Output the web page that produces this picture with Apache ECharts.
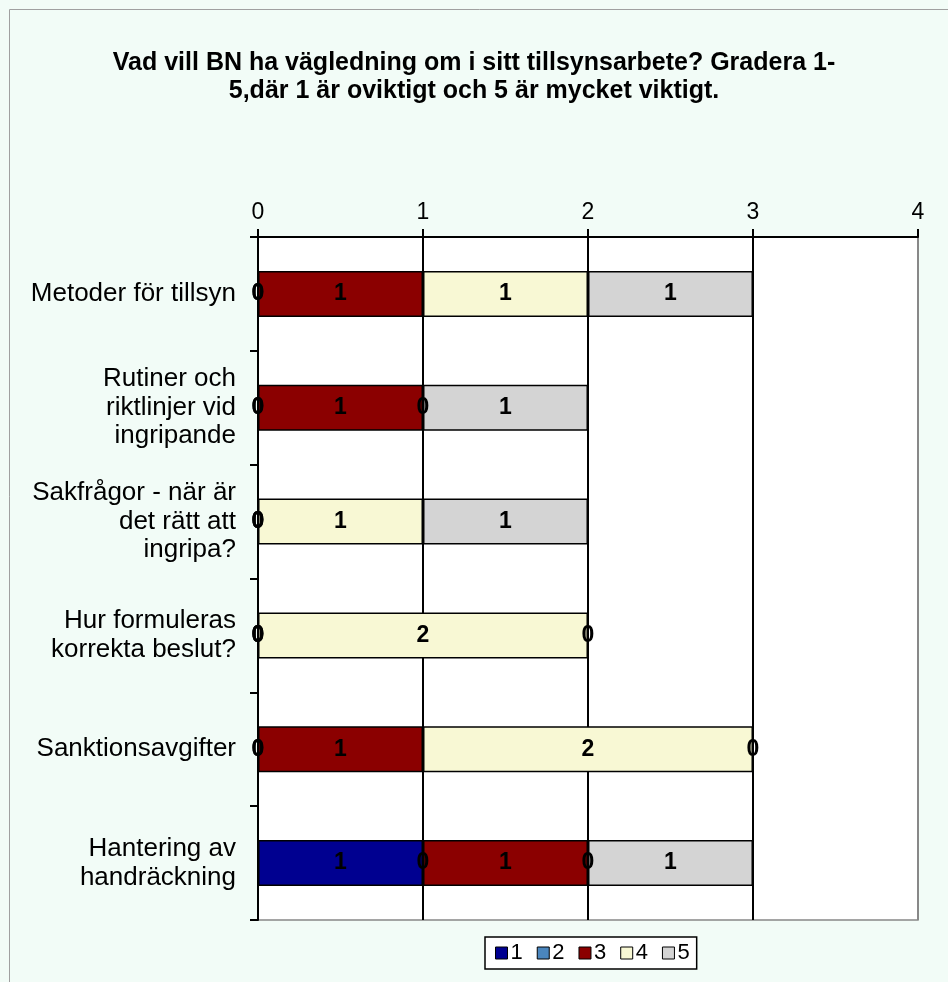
<!DOCTYPE html>
<html>
<head>
<meta charset="utf-8">
<script src="https://cdn.jsdelivr.net/npm/echarts@6/dist/echarts.min.js"></script>
<style>
  html, body { margin: 0; padding: 0; background: #f2fcf7; }
  #chart { width: 948px; height: 982px; }
</style>
</head>
<body>
<div id="chart"></div>
<script>
  var categories = [
    'Metoder för tillsyn',
    'Rutiner och\nriktlinjer vid\ningripande',
    'Sakfrågor - när är\ndet rätt att\ningripa?',
    'Hur formuleras\nkorrekta beslut?',
    'Sanktionsavgifter',
    'Hantering av\nhandräckning'
  ];
  var seriesNames = ['1', '2', '3', '4', '5'];
  var grade1 = [0, 0, 0, 0, 0, 1];
  var grade2 = [0, 0, 0, 0, 0, 0];
  var grade3 = [1, 1, 0, 0, 1, 1];
  var grade4 = [1, 0, 1, 2, 2, 0];
  var grade5 = [1, 1, 1, 0, 0, 1];
  var colors = ['#000090', '#4a86be', '#8b0000', '#f8f8d4', '#d4d4d4'];

  var myChart = echarts.init(document.getElementById('chart'));
  var allData = [grade1, grade2, grade3, grade4, grade5];
  var font = 'Liberation Sans, Arial';

  var series = allData.map(function (d, i) {
    return {
      name: seriesNames[i],
      type: 'bar',
      stack: 'total',
      barWidth: 46,
      data: d,
      itemStyle: {
        color: colors[i],
        borderColor: '#000',
        borderWidth: 1.5
      },
      label: {
        show: true,
        position: 'inside',
        color: '#000',
        fontFamily: font,
        fontWeight: 'bold',
        fontSize: 23
      },
      animation: false
    };
  });

  var option = {
    backgroundColor: '#f2fcf7',
    graphic: [{
      type: 'rect',
      z: -10,
      shape: { x: 9.5, y: 9.5, width: 960, height: 1000 },
      style: { fill: '#f2fcf7', stroke: '#a0a0a0', lineWidth: 1 }
    }],
    title: {
      text: 'Vad vill BN ha vägledning om i sitt tillsynsarbete? Gradera 1-\n5,där 1 är oviktigt och 5 är mycket viktigt.',
      left: 'center',
      top: 44,
      textStyle: {
        fontFamily: font,
        fontWeight: 'bold',
        fontSize: 25,
        lineHeight: 28,
        color: '#000'
      }
    },
    legend: {
      data: seriesNames,
      left: 485,
      top: 937,
      icon: 'rect',
      itemWidth: 12,
      itemHeight: 12,
      itemGap: 14,
      padding: [5, 7, 5, 10],
      borderColor: '#000',
      borderWidth: 1.5,
      backgroundColor: '#fff',
      itemStyle: { borderColor: '#000', borderWidth: 1 },
      textStyle: {
        fontFamily: font,
        fontSize: 22,
        color: '#000',
        padding: [0, 0, 0, -2]
      }
    },
    grid: {
      left: 258,
      right: 30,
      top: 237,
      bottom: 62,
      show: true,
      backgroundColor: '#fff',
      borderColor: '#888',
      borderWidth: 1.5
    },
    xAxis: {
      type: 'value',
      position: 'top',
      min: 0,
      max: 4,
      interval: 1,
      axisLine: { show: true, lineStyle: { color: '#000', width: 2 } },
      axisTick: { show: true, length: 8, lineStyle: { color: '#000', width: 2 } },
      axisLabel: {
        margin: 13,
        color: '#000',
        fontFamily: font,
        fontSize: 23
      },
      splitLine: {
        show: true,
        lineStyle: { color: ['#000', '#000', '#000', '#000', '#888'], width: 2 }
      }
    },
    yAxis: {
      type: 'category',
      inverse: true,
      data: categories,
      axisLine: { show: true, lineStyle: { color: '#000', width: 2 } },
      axisTick: { show: true, length: 8, lineStyle: { color: '#000', width: 2 } },
      axisLabel: {
        margin: 22,
        color: '#000',
        fontFamily: font,
        fontSize: 26,
        lineHeight: 28.5,
        align: 'right'
      }
    },
    series: series
  };
  myChart.setOption(option);
</script>
</body>
</html>
